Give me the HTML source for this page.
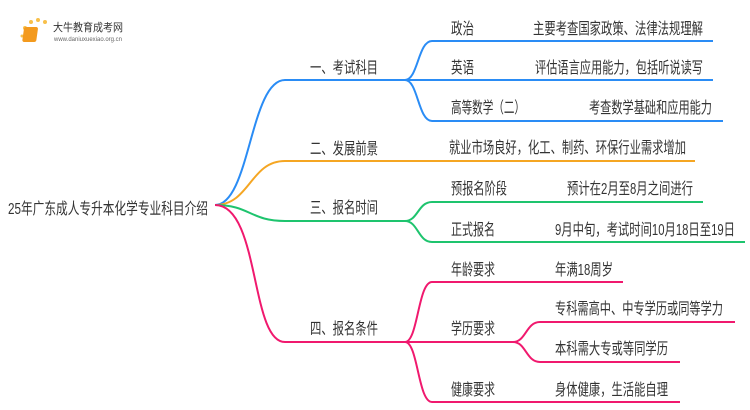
<!DOCTYPE html>
<html><head><meta charset="utf-8"><style>
html,body{margin:0;padding:0;background:#fff;}
svg{display:block;}
text{font-family:"Liberation Sans","Noto Sans CJK SC",sans-serif;fill:#333;font-size:16px;}
</style></head><body>
<svg width="750" height="410" viewBox="0 0 750 410" xmlns="http://www.w3.org/2000/svg">
<g>
<circle cx="25" cy="28" r="2" fill="#f8c04a"/><circle cx="31" cy="22" r="2" fill="#f8c04a"/><circle cx="38" cy="20" r="2" fill="#f8c04a"/><circle cx="45" cy="22" r="2" fill="#f8c04a"/><circle cx="22" cy="36" r="1.5" fill="#f8c04a"/>
<rect x="28" y="27" width="14" height="15" rx="2" fill="#f39a1e" transform="skewX(-8)"/>
<text x="53" y="31" style="font-size:11px" textLength="70" lengthAdjust="spacingAndGlyphs">大牛教育成考网</text>
<text x="54" y="41" style="font-size:6px;fill:#666" textLength="68" lengthAdjust="spacingAndGlyphs">www.daniuxuexiao.org.cn</text>
</g>
<g fill="none" stroke-width="2">
<path d="M215 205 C250 205,250 80,285 80 L405 80" stroke="#2a8cf5"/>
<path d="M405 80 C418 80,418 41,432 41 L713 41" stroke="#2a8cf5"/>
<path d="M405 80 L713 80" stroke="#2a8cf5"/>
<path d="M405 80 C418 80,418 121,432 121 L723 121" stroke="#2a8cf5"/>
<path d="M215 205 C250 205,250 161,285 161 L695 161" stroke="#f5a623"/>
<path d="M215 205 C250 205,250 221,285 221 L405 221" stroke="#1ec46e"/>
<path d="M405 221 C418 221,418 202,432 202 L703 202" stroke="#1ec46e"/>
<path d="M405 221 C418 221,418 242,432 242 L745 242" stroke="#1ec46e"/>
<path d="M215 205 C260 205,250 342,285 342 L405 342" stroke="#f0196e"/>
<path d="M405 342 C418 342,418 282,432 282 L623 282" stroke="#f0196e"/>
<path d="M405 342 L513 342" stroke="#f0196e"/>
<path d="M405 342 C418 342,418 402,432 402 L680 402" stroke="#f0196e"/>
<path d="M513 342 C526 342,526 322,540 322 L735 322" stroke="#f0196e"/>
<path d="M513 342 C526 342,526 362,540 362 L680 362" stroke="#f0196e"/>
</g>
<text x="8" y="214" textLength="200" lengthAdjust="spacingAndGlyphs">25年广东成人专升本化学专业科目介绍</text>
<text x="310" y="73" textLength="68" lengthAdjust="spacingAndGlyphs">一、考试科目</text>
<text x="310" y="154" textLength="68" lengthAdjust="spacingAndGlyphs">二、发展前景</text>
<text x="310" y="213" textLength="68" lengthAdjust="spacingAndGlyphs">三、报名时间</text>
<text x="310" y="334" textLength="68" lengthAdjust="spacingAndGlyphs">四、报名条件</text>
<text x="451" y="34" textLength="23" lengthAdjust="spacingAndGlyphs">政治</text>
<text x="533" y="34" textLength="170" lengthAdjust="spacingAndGlyphs">主要考查国家政策、法律法规理解</text>
<text x="451" y="73" textLength="23" lengthAdjust="spacingAndGlyphs">英语</text>
<text x="535" y="73" textLength="168" lengthAdjust="spacingAndGlyphs">评估语言应用能力，包括听说读写</text>
<text x="451" y="113" textLength="74" lengthAdjust="spacingAndGlyphs">高等数学（二）</text>
<text x="589" y="113" textLength="123" lengthAdjust="spacingAndGlyphs">考查数学基础和应用能力</text>
<text x="449" y="153" textLength="237" lengthAdjust="spacingAndGlyphs">就业市场良好，化工、制药、环保行业需求增加</text>
<text x="451" y="194" textLength="56" lengthAdjust="spacingAndGlyphs">预报名阶段</text>
<text x="567" y="194" textLength="126" lengthAdjust="spacingAndGlyphs">预计在2月至8月之间进行</text>
<text x="451" y="235" textLength="44" lengthAdjust="spacingAndGlyphs">正式报名</text>
<text x="555" y="235" textLength="180" lengthAdjust="spacingAndGlyphs">9月中旬，考试时间10月18日至19日</text>
<text x="451" y="275" textLength="44" lengthAdjust="spacingAndGlyphs">年龄要求</text>
<text x="555" y="275" textLength="58" lengthAdjust="spacingAndGlyphs">年满18周岁</text>
<text x="451" y="334" textLength="44" lengthAdjust="spacingAndGlyphs">学历要求</text>
<text x="555" y="314" textLength="168" lengthAdjust="spacingAndGlyphs">专科需高中、中专学历或同等学力</text>
<text x="555" y="354" textLength="113" lengthAdjust="spacingAndGlyphs">本科需大专或等同学历</text>
<text x="451" y="395" textLength="44" lengthAdjust="spacingAndGlyphs">健康要求</text>
<text x="555" y="395" textLength="113" lengthAdjust="spacingAndGlyphs">身体健康，生活能自理</text>
</svg>
</body></html>
